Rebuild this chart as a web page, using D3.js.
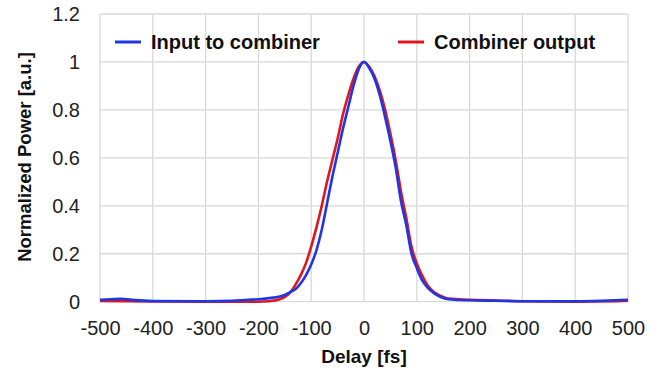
<!DOCTYPE html>
<html><head><meta charset="utf-8">
<script src="https://cdn.jsdelivr.net/npm/d3@7"></script>
<style>body{margin:0;background:#fff;} svg{display:block;font-family:"Liberation Sans",Arial,sans-serif;}</style>
</head><body>
<svg id="c" width="661" height="377"></svg>
<script>
const xTicks = [-500,-400,-300,-200,-100,0,100,200,300,400,500];
const yTicks = [0,0.2,0.4,0.6,0.8,1,1.2];
const yTickLabels = ["0","0.2","0.4","0.6","0.8","1","1.2"];

const inputDelay = [-500,-480,-460,-440,-400,-300,-250,-220,-200,-180,-160,-150,-140,-130,-120,-110,-100,-90,-80,-70,-60,-50,-40,-30,-20,-10,0,10,20,30,40,50,60,70,80,90,100,110,120,130,140,150,160,180,200,250,300,400,450,500];
const inputPower = [0.008,0.01,0.012,0.008,0.003,0.002,0.004,0.008,0.01,0.015,0.022,0.028,0.04,0.052,0.076,0.11,0.155,0.215,0.3,0.41,0.52,0.62,0.72,0.81,0.9,0.97,1.0,0.975,0.93,0.86,0.77,0.67,0.56,0.42,0.32,0.2,0.14,0.09,0.06,0.04,0.025,0.015,0.01,0.007,0.006,0.004,0.002,0.002,0.004,0.008];

const outputDelay = [-500,-400,-300,-200,-180,-160,-150,-140,-130,-120,-110,-100,-90,-80,-70,-60,-50,-40,-30,-20,-10,0,10,20,30,40,50,60,70,80,90,100,110,120,130,140,150,160,180,200,250,300,400,480,500];
const outputPower = [0.003,0.001,0.0,0.0,0.002,0.01,0.02,0.038,0.07,0.11,0.16,0.23,0.31,0.4,0.5,0.59,0.68,0.78,0.86,0.93,0.98,1.0,0.98,0.94,0.88,0.8,0.7,0.59,0.46,0.35,0.23,0.16,0.11,0.07,0.045,0.03,0.02,0.013,0.01,0.008,0.005,0.002,0.0,0.002,0.004];

const seriesNames = ["Input to combiner","Combiner output"];
const seriesColors = ["#1f35e6","#e0161c"];

const svg = d3.select("#c");
const m = {l:100, r:628, t:14, b:301.7};
const x = d3.scaleLinear().domain([-500,500]).range([m.l,m.r]);
const y = d3.scaleLinear().domain([0,1.2]).range([m.b,m.t]);

const grid = svg.append("g").attr("stroke","#d9d9d9").attr("stroke-width",1.3);
xTicks.forEach(t=>grid.append("line").attr("x1",x(t)).attr("x2",x(t)).attr("y1",m.t).attr("y2",m.b));
yTicks.forEach(t=>grid.append("line").attr("x1",m.l).attr("x2",m.r).attr("y1",y(t)).attr("y2",y(t)));

const xAxis = svg.append("g").attr("transform",`translate(0,${m.b})`)
  .call(d3.axisBottom(x).tickValues(xTicks).tickSize(0).tickPadding(19).tickFormat(d=>String(d)));
xAxis.select(".domain").remove();
xAxis.selectAll("text").attr("font-size",20).attr("fill","#222").attr("font-family","Liberation Sans, Arial, sans-serif");

const yAxis = svg.append("g").attr("transform",`translate(${m.l},0)`)
  .call(d3.axisLeft(y).tickValues(yTicks).tickSize(0).tickPadding(20).tickFormat((d,i)=>yTickLabels[i]));
yAxis.select(".domain").remove();
yAxis.selectAll("text").attr("font-size",20).attr("fill","#222").attr("font-family","Liberation Sans, Arial, sans-serif");

const line = d3.line().x(d=>x(d[0])).y(d=>y(d[1])).curve(d3.curveMonotoneX);
svg.append("path").datum(d3.zip(outputDelay,outputPower)).attr("d",line)
  .attr("fill","none").attr("stroke",seriesColors[1]).attr("stroke-width",2.6);
svg.append("path").datum(d3.zip(inputDelay,inputPower)).attr("d",line)
  .attr("fill","none").attr("stroke",seriesColors[0]).attr("stroke-width",2.6);

// legend
const leg = [{x1:115,tx:151},{x1:398,tx:434}];
leg.forEach((p,i)=>{
  svg.append("line").attr("x1",p.x1).attr("x2",p.x1+26).attr("y1",42).attr("y2",42)
    .attr("stroke",seriesColors[i]).attr("stroke-width",3);
  svg.append("text").attr("x",p.tx).attr("y",49).attr("font-size",20).attr("font-weight","bold")
    .attr("fill","#111").text(seriesNames[i]);
});

svg.append("text").attr("x",364).attr("y",363).attr("text-anchor","middle")
  .attr("font-size",19).attr("font-weight","bold").attr("fill","#111").text("Delay [fs]");
svg.append("text").attr("transform","translate(31,157) rotate(-90)").attr("text-anchor","middle")
  .attr("font-size",18.5).attr("font-weight","bold").attr("fill","#111").text("Normalized Power [a.u.]");
</script>
</body></html>
